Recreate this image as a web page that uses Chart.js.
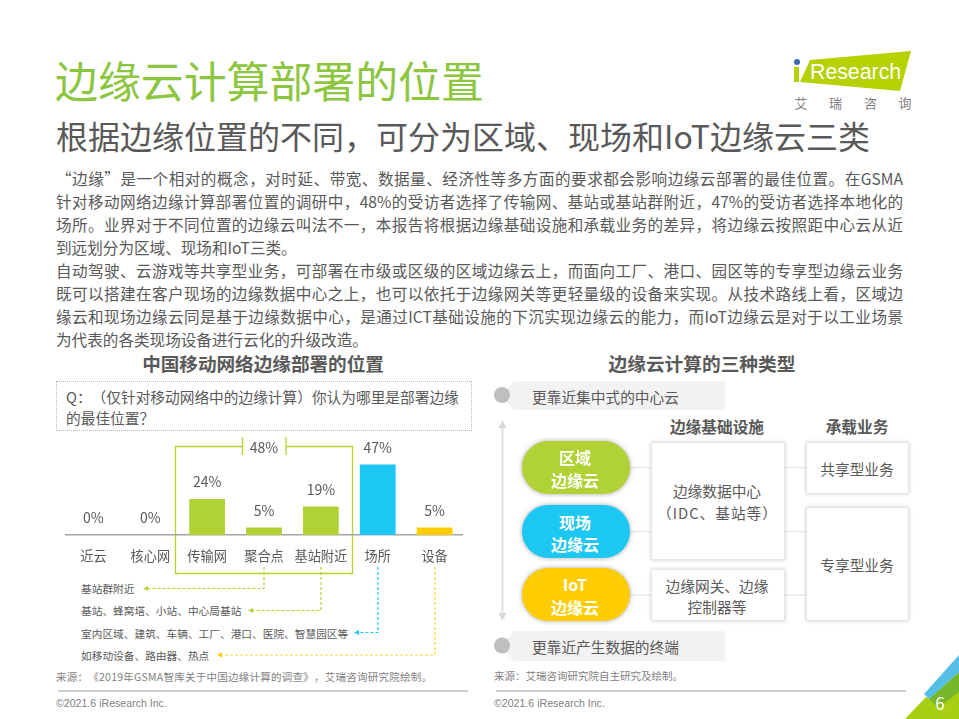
<!DOCTYPE html>
<html lang="zh-CN">
<head>
<meta charset="utf-8">
<title>边缘云计算部署的位置</title>
<script src="https://cdn.jsdelivr.net/npm/chart.js@4"></script>
<style>
  html, body { margin: 0; padding: 0; background: #fff; }
  #page { position: relative; width: 959px; height: 719px; overflow: hidden; font-family: "Noto Sans CJK SC", "Noto Sans", sans-serif; color: #595959; text-spacing-trim: space-all; font-feature-settings: "palt" 0; }
  #page > svg { position: absolute; left: 0; top: 0; }
  .t { position: absolute; white-space: nowrap; line-height: 1; transform: translateY(-50%); }
  .c { position: absolute; white-space: nowrap; line-height: 1; transform: translate(-50%, -50%); text-align: center; }
  .body { position: absolute; left: 56px; width: 847px; height: 23px; line-height: 23px; font-size: 15.6px; white-space: nowrap; }
  .just { white-space: normal; text-align: justify; text-align-last: justify; }
  .b { font-weight: 700; }
  .w { color: #fff; font-weight: 700; font-size: 16px; }
  .en { font-family: "Liberation Sans", Arial, sans-serif; }
  .pill { position: absolute; left: 522px; width: 108px; height: 53px; border-radius: 26.5px; box-shadow: 0 0 5px rgba(0,0,0,.35); }
  .box { position: absolute; box-sizing: border-box; background: #fff; border: 1px solid #e6e6e6; box-shadow: 0 0 4px rgba(0,0,0,.2); }
  #qbox { position: absolute; left: 56px; top: 381px; width: 416px; height: 50px; box-sizing: border-box; border: 1px dotted #bbb; }
  #chartWrap { position: absolute; left: 65px; top: 415px; width: 398px; height: 160px; }
</style>
</head>
<body>
<div id="page">
  <svg width="959" height="719">
    <!-- logo -->
    <polygon points="810,60 911,51 900,91 800,82" fill="#b5d100"/>
    <circle cx="797" cy="62" r="3" fill="#3a6ab0"/>
    <rect x="794" y="67" width="5" height="15" fill="#b5d100"/>
    <text x="810" y="79" font-family="Liberation Sans" font-size="21.3" fill="#fff">Research</text>
    <!-- corner -->
    <polygon points="905,719 926,697 929,699 959,672 959,719" fill="#a8cf12"/>
    <polygon points="929,699 959,672 959,692 938,708" fill="#76b82a"/>
    <polygon points="924,694 959,655 959,672 929,699" fill="#55bfe8"/>
    <!-- 48% bracket -->
    <g fill="none" stroke="#b5d334" stroke-width="1.3">
      <polyline points="242.5,446.5 175.5,446.5 175.5,573.5 352.5,573.5 352.5,446.5 286,446.5"/>
      <line x1="242.5" y1="437" x2="242.5" y2="455"/>
      <line x1="286" y1="437" x2="286" y2="455"/>
    </g>
    <!-- dashed leaders -->
    <g fill="none" stroke-width="1.2" stroke-dasharray="3 2">
      <polyline points="264,567 264,588.5 147,588.5" stroke="#b0d235"/>
      <polyline points="321,567 321,610.5 252,610.5" stroke="#b0d235"/>
      <polyline points="378,567 378,632.5 358,632.5" stroke="#1dc7f3"/>
      <polyline points="435,567 435,655 221,655" stroke="#ffd633"/>
    </g>
    <polygon points="143,588.5 148,586 148,591" fill="#b0d235"/>
    <polygon points="248,610.5 253,608 253,613" fill="#b0d235"/>
    <polygon points="354,632.5 359,630 359,635" fill="#1dc7f3"/>
    <polygon points="217,655 222,652.5 222,657.5" fill="#ffcc00"/>
    <!-- banners -->
    <polygon points="514,381 725,381 725,410 514,410 500,395.5" fill="#f2f2f2"/>
    <polygon points="514,631 725,631 725,661 514,661 500,646" fill="#f2f2f2"/>
    <circle cx="502" cy="395" r="8" fill="#bfbfbf"/>
    <circle cx="502" cy="645.5" r="8" fill="#bfbfbf"/>
    <!-- vertical arrow -->
    <line x1="502.5" y1="426" x2="502.5" y2="616" stroke="#e0e0e0" stroke-width="2"/>
    <polygon points="502.5,420 498.5,428 506.5,428" fill="#d9d9d9"/>
    <polygon points="502.5,621 498.5,613 506.5,613" fill="#d9d9d9"/>
    <!-- connectors -->
    <g stroke="#e6e6e6" stroke-width="1.2">
      <line x1="630" y1="467.7" x2="651" y2="467.7"/>
      <line x1="630" y1="531.7" x2="651" y2="531.7"/>
      <line x1="630" y1="595" x2="651" y2="595"/>
      <line x1="785" y1="467.7" x2="806" y2="467.7"/>
      <line x1="785" y1="531.7" x2="806" y2="531.7"/>
      <line x1="785" y1="595" x2="806" y2="595"/>
    </g>
    <!-- footer rules -->
    <line x1="58" y1="691" x2="468" y2="691" stroke="#bfbfbf" stroke-width="1.6"/>
    <line x1="496" y1="691" x2="906" y2="691" stroke="#bfbfbf" stroke-width="1.6"/>
  </svg>

  <div class="c" style="left:801px;top:102px;font-size:13px;color:#7f7f7f">艾</div>
  <div class="c" style="left:835.5px;top:102px;font-size:13px;color:#7f7f7f">瑞</div>
  <div class="c" style="left:870.5px;top:102px;font-size:13px;color:#7f7f7f">咨</div>
  <div class="c" style="left:905px;top:102px;font-size:13px;color:#7f7f7f">询</div>

  <div class="t" style="left:55px;top:79px;font-size:42.9px;color:#8cc63f">边缘云计算部署的位置</div>
  <div class="t" style="left:56px;top:135px;font-size:32px;color:#595959">根据边缘位置的不同，可分为区域、现场和IoT边缘云三类</div>

  <div class="body just" style="top:167px">“边缘”是一个相对的概念，对时延、带宽、数据量、经济性等多方面的要求都会影响边缘云部署的最佳位置。在GSMA</div>
  <div class="body just" style="top:190px">针对移动网络边缘计算部署位置的调研中，48%的受访者选择了传输网、基站或基站群附近，47%的受访者选择本地化的</div>
  <div class="body just" style="top:213px">场所。业界对于不同位置的边缘云叫法不一，本报告将根据边缘基础设施和承载业务的差异，将边缘云按照距中心云从近</div>
  <div class="body" style="top:236px">到远划分为区域、现场和IoT三类。</div>
  <div class="body just" style="top:259px">自动驾驶、云游戏等共享型业务，可部署在市级或区级的区域边缘云上，而面向工厂、港口、园区等的专享型边缘云业务</div>
  <div class="body just" style="top:282px">既可以搭建在客户现场的边缘数据中心之上，也可以依托于边缘网关等更轻量级的设备来实现。从技术路线上看，区域边</div>
  <div class="body just" style="top:305px">缘云和现场边缘云同是基于边缘数据中心，是通过ICT基础设施的下沉实现边缘云的能力，而IoT边缘云是对于以工业场景</div>
  <div class="body" style="top:328px">为代表的各类现场设备进行云化的升级改造。</div>

  <div class="c b" style="left:263px;top:363px;font-size:18.6px">中国移动网络边缘部署的位置</div>
  <div class="c b" style="left:702px;top:363px;font-size:18.7px">边缘云计算的三种类型</div>

  <div id="qbox"></div>
  <div class="t" style="left:66px;top:397px;font-size:14.7px">Q：（仅针对移动网络中的边缘计算）你认为哪里是部署边缘</div>
  <div class="t" style="left:66px;top:418px;font-size:14.7px">的最佳位置？</div>

  <div id="chartWrap"><canvas id="barChart" width="398" height="160"></canvas></div>
  <div class="c" style="left:264px;top:447px;font-size:14px">48%</div>

  <div class="t" style="left:81px;top:589px;font-size:10.7px">基站群附近</div>
  <div class="t" style="left:81px;top:611px;font-size:10.7px">基站、蜂窝塔、小站、中心局基站</div>
  <div class="t" style="left:81px;top:633.5px;font-size:10.7px">室内区域、建筑、车辆、工厂、港口、医院、智慧园区等</div>
  <div class="t" style="left:81px;top:656px;font-size:10.7px">如移动设备、路由器、热点</div>

  <div class="t" style="left:56px;top:677px;font-size:10.5px;letter-spacing:.25px;color:#7f7f7f">来源：《2019年GSMA智库关于中国边缘计算的调查》，艾瑞咨询研究院绘制。</div>
  <div class="t en" style="left:56px;top:703px;font-size:10.6px;color:#7f7f7f">©2021.6 iResearch Inc.</div>

  <div class="t" style="left:532px;top:397px;font-size:14.7px">更靠近集中式的中心云</div>
  <div class="t" style="left:532px;top:647px;font-size:14.7px">更靠近产生数据的终端</div>

  <div class="c b" style="left:717px;top:427px;font-size:15.7px">边缘基础设施</div>
  <div class="c b" style="left:857px;top:427px;font-size:15.7px">承载业务</div>

  <div class="pill" style="top:441px;background:#b0d235"></div>
  <div class="pill" style="top:505px;background:#1dc7f3"></div>
  <div class="pill" style="top:568px;background:#ffcc00"></div>
  <div class="c w" style="left:575px;top:457px">区域</div>
  <div class="c w" style="left:575px;top:480px">边缘云</div>
  <div class="c w" style="left:575px;top:522px">现场</div>
  <div class="c w" style="left:575px;top:544px">边缘云</div>
  <div class="c w" style="left:575px;top:584px">IoT</div>
  <div class="c w" style="left:575px;top:607px">边缘云</div>

  <div class="box" style="left:651px;top:442px;width:134px;height:118px"></div>
  <div class="box" style="left:651px;top:569px;width:134px;height:52px"></div>
  <div class="box" style="left:806px;top:442px;width:103px;height:52px"></div>
  <div class="box" style="left:806px;top:507px;width:103px;height:114px"></div>
  <div class="c" style="left:717px;top:491px;font-size:14.7px">边缘数据中心</div>
  <div class="c" style="left:717.5px;top:513px;font-size:14.7px;letter-spacing:1px">（IDC、基站等）</div>
  <div class="c" style="left:717px;top:586px;font-size:14.7px">边缘网关、边缘</div>
  <div class="c" style="left:717px;top:607px;font-size:14.7px">控制器等</div>
  <div class="c" style="left:857px;top:469px;font-size:14.7px">共享型业务</div>
  <div class="c" style="left:857px;top:565px;font-size:14.7px">专享型业务</div>

  <div class="t" style="left:494px;top:675.5px;font-size:10.5px;color:#7f7f7f">来源：艾瑞咨询研究院自主研究及绘制。</div>
  <div class="t en" style="left:494px;top:703px;font-size:10.6px;color:#7f7f7f">©2021.6 iResearch Inc.</div>

  <div class="c" style="left:940px;top:702px;font-size:17px;color:#fff">6</div>
</div>

<script>
const categories = ["近云", "核心网", "传输网", "聚合点", "基站附近", "场所", "设备"];
const percentValues = [0, 0, 24, 5, 19, 47, 5];
const barColors = ["#b0d235", "#b0d235", "#b0d235", "#b0d235", "#b0d235", "#1dc7f3", "#ffcc00"];

// draws the "24%" labels above the bars
const valueLabels = {
  id: "valueLabels",
  afterDatasetsDraw(chart) {
    const ctx = chart.ctx;
    const meta = chart.getDatasetMeta(0);
    ctx.save();
    ctx.font = '14px "Noto Sans CJK SC"';
    ctx.fillStyle = "#595959";
    ctx.textAlign = "center";
    ctx.textBaseline = "middle";
    meta.data.forEach((bar, i) => {
      ctx.fillText(percentValues[i] + "%", bar.x, bar.y - 17);
    });
    ctx.restore();
  }
};

new Chart(document.getElementById("barChart").getContext("2d"), {
  type: "bar",
  data: {
    labels: categories,
    datasets: [{
      data: percentValues,
      backgroundColor: barColors,
      categoryPercentage: 1,
      barPercentage: 0.63
    }]
  },
  options: {
    responsive: false,
    animation: false,
    layout: { padding: 0 },
    plugins: { legend: { display: false }, tooltip: { enabled: false } },
    scales: {
      y: { display: false, min: 0, max: 80 },
      x: {
        afterFit(scale) { scale.height = 40; },
        grid: { drawOnChartArea: false, drawTicks: false },
        border: { color: "#a6a6a6", width: 1.5 },
        ticks: {
          color: "#595959",
          padding: 13,
          maxRotation: 0,
          autoSkip: false,
          font: { family: '"Noto Sans CJK SC"', size: 13.2 }
        }
      }
    }
  },
  plugins: [valueLabels]
});
</script>
</body>
</html>
